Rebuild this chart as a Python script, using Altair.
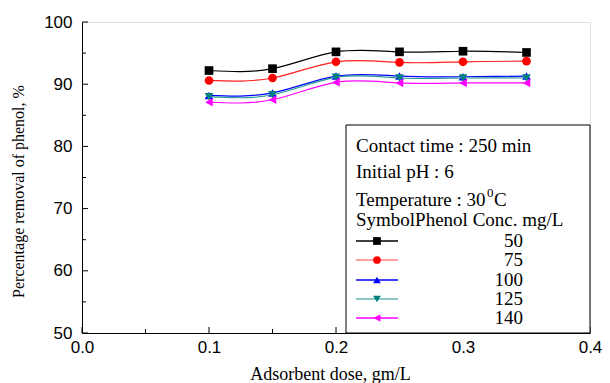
import altair as alt
import pandas as pd

# ---- data ----
dose = [0.10, 0.15, 0.20, 0.25, 0.30, 0.35]
conc_labels = ["50", "75", "100", "125", "140"]
removal_50 = [92.2, 92.5, 95.2, 95.2, 95.3, 95.1]
removal_75 = [90.6, 91.0, 93.6, 93.5, 93.6, 93.7]
removal_100 = [88.2, 88.6, 91.3, 91.3, 91.2, 91.3]
removal_125 = [88.0, 88.3, 91.1, 91.0, 91.0, 91.0]
removal_140 = [87.1, 87.5, 90.3, 90.2, 90.2, 90.2]
series_values = [removal_50, removal_75, removal_100, removal_125, removal_140]

marker_colors = ["#000000", "#ff0000", "#0000ff", "#008080", "#ff00ff"]
line_colors = ["#000000", "#ff2020", "#0000ff", "#2a9a9a", "#ff00ff"]
legend_line_colors = ["#000000", "#ff8080", "#0000ff", "#66b3b3", "#ff00ff"]
shapes = ["square", "circle", "triangle-up", "triangle-down", "triangle-left"]

x_major = [0.0, 0.1, 0.2, 0.3, 0.4]
x_minor = [0.05, 0.15, 0.25, 0.35]
y_major = [50, 60, 70, 80, 90, 100]
y_minor = [55, 65, 75, 85, 95]

header_lines = ["Contact time : 250 min", "Initial pH : 6", "Temperature : 30", "SymbolPhenol Conc. mg/L"]

W, H = 508, 311
SERIF = "Liberation Serif"
SANS = "Liberation Sans"

x_scale = alt.Scale(domain=[0, 0.4], nice=False, zero=False)
y_scale = alt.Scale(domain=[50, 100], nice=False, zero=False)

x_enc = alt.X(
    "dose:Q", scale=x_scale,
    axis=alt.Axis(values=x_major, format=".1f", title="Adsorbent dose, gm/L",
                  ticks=False, grid=False, labelFlush=False, labelOverlap=False,
                  labelFont=SANS, labelFontSize=17, labelColor="black", labelPadding=6,
                  titleFont=SERIF, titleFontSize=18, titleFontWeight="normal",
                  titleColor="black", titlePadding=10, titleX=248, domainColor="black"),
)
y_enc = alt.Y(
    "removal:Q", scale=y_scale,
    axis=alt.Axis(values=y_major, format="d", title="Percentage removal of phenol, %",
                  ticks=False, grid=False, labelFlush=False, labelOverlap=False,
                  labelFont=SANS, labelFontSize=17, labelColor="black", labelPadding=10,
                  titleFont=SERIF, titleFontSize=16, titleFontWeight="normal",
                  titleColor="black", titlePadding=17, titleY=169, domainColor="black"),
)

layers = []

# inward ticks
for vals, size in [(x_major, 6), (x_minor, 4)]:
    layers.append(
        alt.Chart(pd.DataFrame({"dose": vals})).mark_rule(color="black", strokeWidth=1)
        .encode(x=x_enc, y=alt.value(H), y2=alt.value(H - size))
    )
for vals, size in [(y_major, 6), (y_minor, 4)]:
    layers.append(
        alt.Chart(pd.DataFrame({"removal": vals})).mark_rule(color="black", strokeWidth=1)
        .encode(y=y_enc, x=alt.value(0), x2=alt.value(size))
    )

# data series
for i, (lab, vals) in enumerate(zip(conc_labels, series_values)):
    df = pd.DataFrame({"dose": dose, "removal": vals})
    layers.append(
        alt.Chart(df).mark_line(interpolate="natural", strokeWidth=1.2, color=line_colors[i])
        .encode(x=x_enc, y=y_enc)
    )
    layers.append(
        alt.Chart(df).mark_point(shape=shapes[i], filled=True, size=75, opacity=1,
                                 color=marker_colors[i])
        .encode(x=x_enc, y=y_enc)
    )

one = pd.DataFrame({"a": [0]})

# legend box
layers.append(
    alt.Chart(one).mark_rect(fill="white", stroke="black", strokeWidth=1)
    .encode(x=alt.value(264), x2=alt.value(W), y=alt.value(103), y2=alt.value(H))
)

LX = 274
FS = 19
header_y = [124, 150, 178, 198]
for txt, yy in zip(header_lines, header_y):
    layers.append(
        alt.Chart(one).mark_text(align="left", baseline="middle", font=SERIF, fontSize=FS, color="black")
        .encode(x=alt.value(LX), y=alt.value(yy), text=alt.value(txt))
    )
# superscript and unit of the temperature line
layers.append(
    alt.Chart(one).mark_text(align="left", baseline="middle", font=SERIF, fontSize=13, color="black")
    .encode(x=alt.value(LX + 131), y=alt.value(171), text=alt.value("0"))
)
layers.append(
    alt.Chart(one).mark_text(align="left", baseline="middle", font=SERIF, fontSize=FS, color="black")
    .encode(x=alt.value(LX + 138), y=alt.value(178), text=alt.value("C"))
)

row_y = [219, 238, 258, 277, 296]
for i, lab in enumerate(conc_labels):
    yy = row_y[i]
    layers.append(
        alt.Chart(one).mark_rule(color=legend_line_colors[i], strokeWidth=1.3)
        .encode(x=alt.value(LX), x2=alt.value(LX + 42), y=alt.value(yy))
    )
    layers.append(
        alt.Chart(one).mark_point(shape=shapes[i], filled=True, size=60, opacity=1,
                                  color=marker_colors[i])
        .encode(x=alt.value(LX + 21), y=alt.value(yy))
    )
    layers.append(
        alt.Chart(one).mark_text(align="right", baseline="middle", font=SERIF, fontSize=FS, color="black")
        .encode(x=alt.value(441), y=alt.value(yy), text=alt.value(lab))
    )

chart = (
    alt.layer(*layers)
    .properties(width=W, height=H, autosize=alt.AutoSizeParams(type="none"),
                padding={"left": 74, "top": 14, "right": 12, "bottom": 52})
    .configure_view(stroke="black", strokeWidth=1)
    .configure(background="white")
)

chart.save("out.html", embed_options={"renderer": "svg", "actions": False})
